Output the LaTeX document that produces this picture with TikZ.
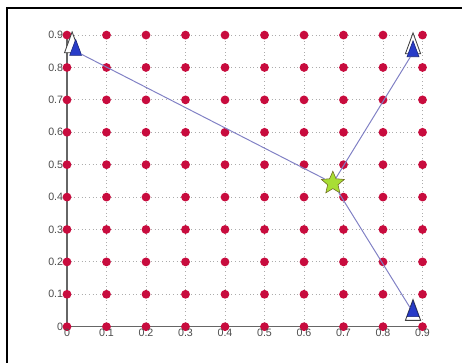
\documentclass[tikz,border=0pt]{standalone}
\usepackage{fontspec}
\setmainfont{Liberation Sans}
\usetikzlibrary{shapes.geometric}

\definecolor{dotred}{RGB}{200,12,62}
\definecolor{linkblue}{RGB}{128,128,196}
\definecolor{anchorblue}{RGB}{40,60,200}
\definecolor{starlime}{RGB}{168,222,52}

\begin{document}
\begin{tikzpicture}[x=9.875cm, y=8.1cm,
		every node/.style={font=\fontsize{7.6}{9}\selectfont, text=black!70},
		gridline/.style={gray!65, dotted, line width=0.6pt},
		axisline/.style={gray!80!black, line width=0.8pt},
		dot/.style={circle, fill=dotred, inner sep=0pt, minimum size=0.22cm},
		anchorout/.style={isosceles triangle, isosceles triangle stretches, shape border rotate=90, draw=black!75, fill=white, inner sep=0pt, minimum width=0.38cm, minimum height=0.52cm, line width=0.6pt},
		anchorin/.style={isosceles triangle, isosceles triangle stretches, shape border rotate=90, draw=anchorblue!60!black, fill=anchorblue, inner sep=0pt, minimum width=0.3cm, minimum height=0.4cm, line width=0.4pt},
		target/.style={star, star points=5, star point ratio=2.2, draw=olive!70!black, fill=starlime, inner sep=0pt, minimum size=0.6cm},
		link/.style={linkblue, line width=0.7pt}
		]
		
		\useasboundingbox (-0.1696,-0.112) rectangle (1.0,1.0083);
		
		% Frame
		\draw[line width=1.8pt] (-0.1519,-0.112) -- (-0.1519,0.9836) -- (1.0,0.9836);
		
		% Draw Grid
		\foreach \t in {0,0.1,0.2,0.3,0.4,0.5,0.6,0.7,0.8,0.9} {
			\draw[gridline] (\t,0) -- (\t,0.9);
			\draw[gridline] (0,\t) -- (0.9,\t);
		}
		\draw[axisline] (0,0.9) -- (0,0) -- (0.9,0);
		
		% Draw Grid Points
		\foreach \i in {0,...,9} {
			\foreach \j in {0,...,9} {
				\node[dot] (d\i\j) at (0.1*\i,0.1*\j) {};
			}
		}
		
		% Tick Labels
		\foreach \t in {0,0.1,0.2,0.3,0.4,0.5,0.6,0.7,0.8,0.9} {
			\node[anchor=east, inner sep=0pt] (ly\t) at ([xshift=-0.09cm]0,\t) {\t};
			\node[anchor=north, inner sep=0pt] (lx\t) at ([yshift=-0.06cm]\t,0) {\t};
		}
		
		% Anchors and Target
		\node[anchorout] (a1o) at (0.013,0.862) {};
		\node[anchorin] (a1) at (0.022,0.850) {};
		\node[anchorout] (a2o) at (0.876,0.859) {};
		\node[anchorin] (a2) at (0.876,0.846) {};
		\node[anchorout] (a3o) at (0.876,0.036) {};
		\node[anchorin] (a3) at (0.876,0.044) {};
		\node[target] (s) at (0.673,0.443) {};
		
		% Connect Target to Anchors
		\foreach \x in {a1, a2, a3} {
			\draw[link] (s) -- (\x);
		}
		
	\end{tikzpicture}
\end{document}
